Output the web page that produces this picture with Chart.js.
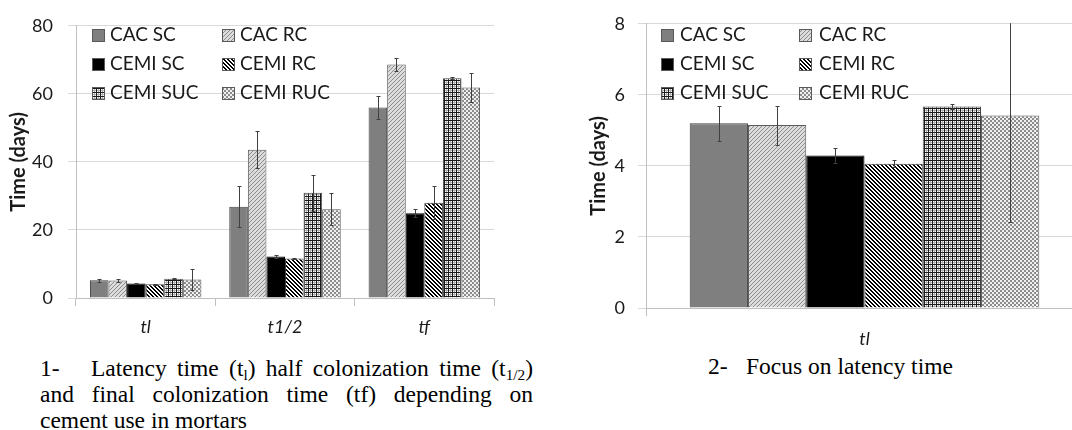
<!DOCTYPE html>
<html><head><meta charset="utf-8">
<script src="https://cdn.jsdelivr.net/npm/chart.js@4.4.1/dist/chart.umd.min.js"></script>
<style>
html,body{margin:0;padding:0;background:#fff;}
body{width:1072px;height:430px;overflow:hidden;position:relative;}
#c1{position:absolute;left:0;top:0;}
#c2{position:absolute;left:540px;top:0;}
.cap{position:absolute;font-family:"Liberation Serif","Times New Roman",serif;font-size:23.5px;line-height:26px;color:#000;}
.cap .j{text-align:justify;text-align-last:justify;}
.cap sub{font-size:65%;line-height:0;vertical-align:-0.25em;}
.num{display:inline-block;}
</style></head>
<body>
<canvas id="c1" width="540" height="350"></canvas>
<canvas id="c2" width="560" height="350"></canvas>
<div class="cap" style="left:40px;top:355px;width:493px;">
<div class="j"><span class="num" style="width:51px">1-</span>Latency time (t<sub>l</sub>) half colonization time (t<sub>1/2</sub>)</div>
<div class="j">and final colonization time (tf) depending on</div>
<div>cement use in mortars</div>
</div>
<div class="cap" style="left:708px;top:353px;white-space:nowrap;"><span class="num" style="width:38px">2-</span>Focus on latency time</div>
<script>
// ---- data ----
const categoriesAll = ['tl', 't1/2', 'tf'];
const categoriesFocus = ['tl'];
const seriesNames = ['CAC SC', 'CAC RC', 'CEMI SC', 'CEMI RC', 'CEMI SUC', 'CEMI RUC'];
const cacSC   = [5.2, 26.8, 56.0];
const cacRC   = [5.15, 43.6, 68.6];
const cemiSC  = [4.29, 12.2, 24.9];
const cemiRC  = [4.06, 11.6, 28.0];
const cemiSUC = [5.67, 30.9, 64.6];
const cemiRUC = [5.42, 26.1, 61.9];
const cacSCErr   = [0.49, 6.0, 3.5];
const cacRCErr   = [0.55, 5.5, 2.0];
const cemiSCErr  = [0.22, 0.3, 1.2];
const cemiRCErr  = [0.1, 0.15, 4.8];
const cemiSUCErr = [0.07, 5.3, 0.3];
const cemiRUCErr = [3.0, 4.7, 4.2];
const yTicksAll = [0, 20, 40, 60, 80];
const yTicksFocus = [0, 2, 4, 6, 8];

const seriesValues = [cacSC, cacRC, cemiSC, cemiRC, cemiSUC, cemiRUC];
const seriesErrors = [cacSCErr, cacRCErr, cemiSCErr, cemiRCErr, cemiSUCErr, cemiRUCErr];

// ---- patterns ----
function pixPattern(size, fn){
  const c = document.createElement('canvas');
  c.width = size; c.height = size;
  const g = c.getContext('2d');
  for (let y = 0; y < size; y++) for (let x = 0; x < size; x++) {
    g.fillStyle = fn(x, y); g.fillRect(x, y, 1, 1);
  }
  return g.createPattern(c, 'repeat');
}
const fills = [
  '#7f7f7f',
  pixPattern(4, (x, y) => ((x + y) % 4 === 3 ? '#8c8c8c' : '#dcdcdc')),
  '#000000',
  pixPattern(4, (x, y) => (((x - y + 8) % 4) < 2 ? '#000000' : '#ffffff')),
  pixPattern(4, (x, y) => (x === 0 || y === 0 ? '#1a1a1a' : (x === 2 || y === 2 ? '#b0b0b0' : '#ffffff'))),
  pixPattern(4, (x, y) => ((((x >> 1) + (y >> 1)) % 2) ? '#8c8c8c' : '#f0f0f0'))
];
const borders = ['#404040', '#595959', '#000000', '#404040', '#404040', '#595959'];

// ---- plugins ----
const errorBarPlugin = {
  id: 'errorBars',
  afterDatasetsDraw(chart, args, opts) {
    const {ctx, chartArea} = chart;
    const ys = chart.scales.y;
    ctx.save();
    ctx.beginPath();
    ctx.rect(chartArea.left, chartArea.top - 0.5, chartArea.right - chartArea.left, chartArea.bottom - chartArea.top + 1);
    ctx.clip();
    ctx.strokeStyle = opts.color; ctx.lineWidth = 1;
    chart.data.datasets.forEach((ds, i) => {
      const meta = chart.getDatasetMeta(i);
      meta.data.forEach((bar, j) => {
        const v = ds.data[j], e = ds.errors[j];
        const x = Math.round(bar.x) + 0.5;
        const yt = Math.round(ys.getPixelForValue(v + e)) + 0.5;
        const yb = Math.round(ys.getPixelForValue(v - e)) + 0.5;
        ctx.beginPath();
        ctx.moveTo(x, yt); ctx.lineTo(x, yb);
        ctx.moveTo(x - opts.cap, yt); ctx.lineTo(x + opts.cap, yt);
        ctx.moveTo(x - opts.cap, yb); ctx.lineTo(x + opts.cap, yb);
        ctx.stroke();
      });
    });
    ctx.restore();
  }
};
const gridLegend = {
  id: 'gridLegend',
  afterDraw(chart, args, opts) {
    const {ctx, chartArea} = chart;
    ctx.save();
    ctx.font = opts.font; ctx.textBaseline = 'middle';
    chart.data.datasets.forEach((ds, i) => {
      const col = i % 2, row = Math.floor(i / 2);
      const bx = Math.round(chartArea.left + opts.boxX[col]);
      const ty = opts.rowY[row];
      const by = Math.round(ty - 6.5);
      ctx.fillStyle = ds.backgroundColor;
      ctx.fillRect(bx, by, 13, 13);
      ctx.strokeStyle = '#595959'; ctx.lineWidth = 1;
      ctx.strokeRect(bx + 0.5, by + 0.5, 12, 12);
      ctx.fillStyle = opts.color;
      ctx.fillText(ds.label, chartArea.left + opts.textX[col], ty);
    });
    ctx.restore();
  }
};

function makeChart(id, labels, nCat, yTicks, lay) {
  const datasets = seriesNames.map((name, i) => ({
    label: name,
    data: seriesValues[i].slice(0, nCat),
    errors: seriesErrors[i].slice(0, nCat),
    backgroundColor: fills[i],
    borderColor: borders[i],
    borderWidth: 1
  }));
  return new Chart(document.getElementById(id), {
    type: 'bar',
    data: {labels, datasets},
    options: {
      responsive: false, animation: false,
      layout: {padding: {left: lay.padLeft, top: 21, right: lay.padRight, bottom: 0}},
      datasets: {bar: {categoryPercentage: 0.8, barPercentage: 1.0}},
      plugins: {
        legend: {display: false}, tooltip: {enabled: false},
        errorBars: {color: '#404040', cap: 2},
        gridLegend: {font: '19px Lato', color: '#1a1a1a', boxX: lay.boxX, textX: lay.textX, rowY: [35, 64, 93]}
      },
      scales: {
        x: {
          grid: {offset: true, drawOnChartArea: false, drawTicks: true, tickLength: 8, color: '#bfbfbf'},
          border: {color: '#bfbfbf'},
          ticks: {font: {family: 'Lato', size: 18, style: 'italic'}, color: '#1a1a1a', padding: lay.xPad},
          afterFit(s) { s.height = lay.xH; }
        },
        y: {
          min: yTicks[0], max: yTicks[yTicks.length - 1],
          ticks: {stepSize: yTicks[1] - yTicks[0], font: {family: 'Lato', size: 18}, color: '#1a1a1a', padding: lay.yPad},
          grid: {color: '#d9d9d9', tickLength: 8},
          border: {color: '#bfbfbf'},
          title: {display: true, text: 'Time (days)', font: {family: 'Lato', size: 20, weight: 'bold'}, color: '#1a1a1a', padding: {top: 7, bottom: 0}},
          afterFit(s) { s.width = lay.yW; }
        }
      }
    },
    plugins: [errorBarPlugin, gridLegend]
  });
}

makeChart('c1', categoriesAll, 3, yTicksAll,
  {padLeft: 0, padRight: 46, yW: 76, xH: 52, xPad: 10, yPad: 15, boxX: [16, 146], textX: [34, 164]});
makeChart('c2', categoriesFocus, 1, yTicksFocus,
  {padLeft: 40, padRight: 17, yW: 66, xH: 42, xPad: 12, yPad: 13, boxX: [15, 153], textX: [34, 173]});
</script>
</body></html>
